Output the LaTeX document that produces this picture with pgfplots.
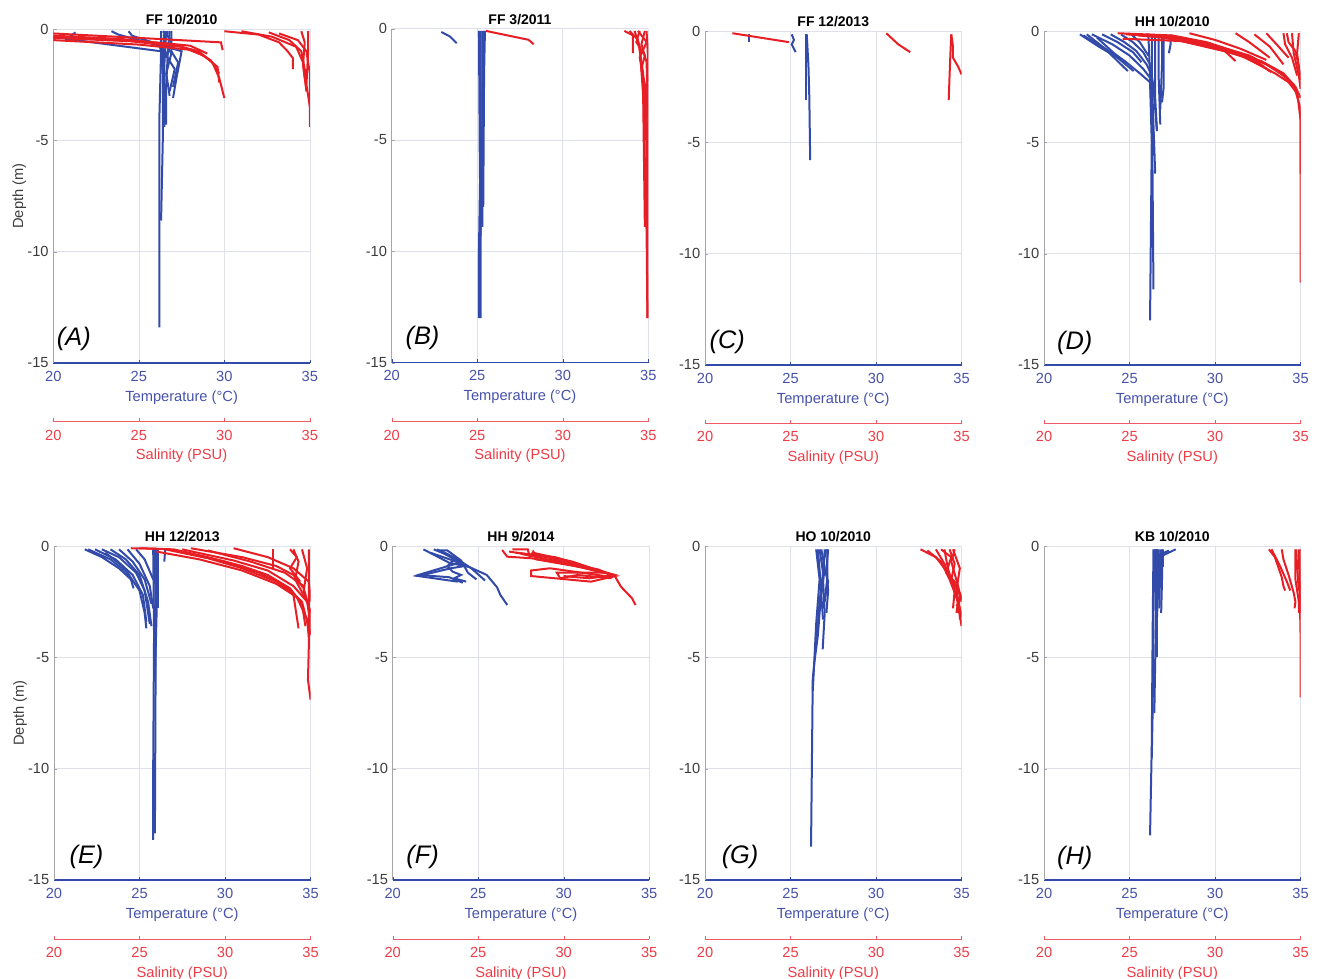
\documentclass[border=0pt]{standalone}
\usepackage{pgfplots}
\pgfplotsset{compat=1.18}
\usepackage{fontspec}
\setmainfont{Liberation Sans}
\definecolor{tblue}{RGB}{50,75,170}
\definecolor{sred}{RGB}{232,30,37}
\definecolor{tlab}{RGB}{70,82,170}
\definecolor{slab}{RGB}{238,60,70}
\definecolor{sline}{RGB}{240,90,100}
\definecolor{gridc}{RGB}{222,224,234}
\definecolor{ylab}{RGB}{60,60,60}
\newcommand{\fs}{\fontsize{11}{13}\selectfont}
\pgfplotsset{
 panel/.style={
  scale only axis, width=192.4pt, height=250.5pt, anchor=south west,
  xmin=20,xmax=35,ymin=-15,ymax=0,
  xtick={20,25,30,35}, ytick={-15,-10,-5,0},
  axis lines*=left,
  grid=major, major grid style={gridc, line width=0.5pt},
  x axis line style={draw=tblue, line width=1.1pt},
  y axis line style={draw=gray!70, line width=0.5pt},
  tick align=inside, major tick length=2.5pt,
  xtick style={tblue}, ytick style={gray!70},
  xticklabel style={text=tlab, font=\fs, yshift=-2.5pt},
  yticklabel style={text=ylab, font=\fs},
  xlabel={Temperature (°C)}, xlabel style={text=tlab, font=\fs, yshift=0pt},
  ylabel style={text=ylab, font=\fs, yshift=-6pt},
  title style={font=\bfseries\fontsize{10.5}{12}\selectfont, at={(0.5,1)}, anchor=south, inner sep=2pt, yshift=-5pt},
  /pgf/number format/assume math mode=true,
 },
 sal/.style={
  scale only axis, width=192.4pt, height=10pt, anchor=south west,
  xmin=20,xmax=35,ymin=0,ymax=1, hide y axis, axis x line*=bottom,
  xtick={20,25,30,35}, tick align=inside, major tick length=2.5pt,
  x axis line style={draw=sline, line width=0.9pt}, xtick style={sline},
  xticklabel style={text=slab, font=\fs, yshift=-2.5pt},
  xlabel={Salinity (PSU)}, xlabel style={text=slab, font=\fs, yshift=0pt},
  /pgf/number format/assume math mode=true,
 },
 T/.style={color=tblue, line width=1.5pt, mark=none},
 S/.style={color=sred, line width=1.5pt, mark=none},
}
\newcommand{\plab}[3]{\node[font=\itshape\fontsize{19}{21}\selectfont] at (axis cs:#1,#2) {#3};}
\begin{document}
\begin{tikzpicture}
\useasboundingbox (0,0) rectangle (989.25pt,-733.5pt);
% ---------------- A
\begin{axis}[panel, at={(40pt,-272.25pt)}, title={FF 10/2010}, ylabel={Depth (m)}]
\addplot[T] coordinates {(26.3,-0.1)(26.3,-1)(26.2,-4)(26.2,-8)(26.2,-13.4)};
\addplot[T] coordinates {(26.5,-0.1)(26.4,-1)(26.4,-5)(26.3,-8.6)};
\addplot[T] coordinates {(26.6,-0.1)(26.5,-1.5)(26.5,-4.4)};
\addplot[T] coordinates {(26.8,-0.1)(26.7,-1)(26.6,-2.5)(26.6,-4.3)};
\addplot[T] coordinates {(21.3,-0.15)(20.8,-0.45)(26.3,-1.0)(26.4,-2.0)};
\addplot[T] coordinates {(23.4,-0.1)(23.8,-0.25)(26.2,-0.75)(26.5,-1.4)};
\addplot[T] coordinates {(24.4,-0.1)(24.6,-0.3)(26.4,-0.75)(27.5,-1.0)(27.2,-2.2)(27.0,-3.1)};
\addplot[T] coordinates {(26.9,-0.1)(26.9,-1.0)(27.3,-1.5)(27.0,-2.6)};
\addplot[T] coordinates {(26.4,-0.1)(26.9,-0.5)(26.6,-1.2)(27.1,-1.8)(26.8,-2.8)};
\addplot[T] coordinates {(26.7,-0.1)(26.5,-0.6)(26.9,-1.1)(26.6,-2.0)(26.8,-3.0)};
\addplot[S] coordinates {(20,-0.2)(25,-0.4)(29.8,-0.6)(29.9,-0.95)};
\addplot[S] coordinates {(20,-0.3)(24,-0.45)(27,-0.7)(28.5,-1.0)(29.3,-1.5)(29.7,-2.2)(30,-3.1)};
\addplot[S] coordinates {(20,-0.4)(24.5,-0.55)(27.5,-0.8)(28.8,-1.2)(29.6,-1.7)(29.7,-2.4)};
\addplot[S] coordinates {(20,-0.5)(25,-0.7)(28.2,-0.95)(29.2,-1.4)(29.7,-2.0)};
\addplot[S] coordinates {(20,-0.35)(26,-0.6)(28,-0.75)(29,-1.1)};
\addplot[S] coordinates {(30,-0.1)(32,-0.25)(33.2,-0.6)(33.7,-1.0)(34,-1.3)(34,-1.8)};
\addplot[S] coordinates {(32.6,-0.15)(33.8,-0.5)(34.5,-1.0)(34.7,-1.8)(34.8,-2.8)};
\addplot[S] coordinates {(33.2,-0.2)(34.3,-0.5)(34.8,-1.0)(35,-2)(35,-4.4)};
\addplot[S] coordinates {(34.5,-0.1)(34.7,-0.6)(34.6,-1.6)(34.8,-2.8)};
\addplot[S] coordinates {(34.9,-0.1)(34.9,-1)(34.8,-2.5)(35,-3.5)};
\addplot[S] coordinates {(31,-0.1)(32.8,-0.35)(34.2,-0.8)(34.6,-1.5)(34.7,-2.2)};
\plab{21.2}{-13.9}{(A)}
\end{axis}
\begin{axis}[sal, at={(40pt,-316.3pt)}]
\addplot[draw=none] coordinates {(20,0)};
\end{axis}
% ---------------- B
\begin{axis}[panel, at={(293.8pt,-272.0pt)}, title={FF 3/2011}]
\addplot[T] coordinates {(22.9,-0.15)(23.4,-0.35)(23.8,-0.65)};
\addplot[T] coordinates {(25.2,-0.1)(25.2,-5)(25.1,-10)(25.1,-13.0)};
\addplot[T] coordinates {(25.3,-0.1)(25.3,-4)(25.2,-9)(25.2,-13)};
\addplot[T] coordinates {(25.4,-0.1)(25.3,-3)(25.3,-8.9)};
\addplot[T] coordinates {(25.45,-0.1)(25.4,-2)(25.35,-8)};
\addplot[T] coordinates {(25.1,-0.1)(25.15,-6)(25.2,-9.3)};
\addplot[S] coordinates {(25.5,-0.1)(28.0,-0.5)(28.3,-0.7)};
\addplot[S] coordinates {(33.6,-0.1)(34.1,-0.3)(34.1,-1.1)};
\addplot[S] coordinates {(33.9,-0.1)(34.4,-0.5)(34.7,-2)(34.8,-6)(34.9,-9)(34.95,-13)};
\addplot[S] coordinates {(34.2,-0.1)(34.5,-0.8)(34.7,-3)(34.8,-8.9)};
\addplot[S] coordinates {(34.5,-0.1)(34.3,-0.6)(34.8,-1.2)(34.6,-1.8)(34.9,-3.5)(34.9,-9)};
\addplot[S] coordinates {(34.8,-0.1)(34.6,-0.7)(34.9,-1.5)(35,-4)(34.95,-13)};
\addplot[S] coordinates {(34.4,-0.1)(34.9,-0.6)(34.5,-1.3)(34.8,-2.5)(34.85,-5)};
\addplot[S] coordinates {(34.9,-0.1)(35,-1.5)(34.9,-3)(34.9,-8)};
\plab{21.8}{-13.9}{(B)}
\end{axis}
\begin{axis}[sal, at={(293.8pt,-316.3pt)}]
\addplot[draw=none] coordinates {(20,0)};
\end{axis}
% ---------------- C
\begin{axis}[panel, at={(528.75pt,-273.75pt)}, title={FF 12/2013}]
\addplot[T] coordinates {(22.6,-0.15)(22.6,-0.5)};
\addplot[T] coordinates {(25.07,-0.15)(25.2,-0.4)(25.07,-0.6)(25.3,-0.95)};
\addplot[T] coordinates {(25.9,-0.15)(25.9,-1.5)(25.9,-3.1)};
\addplot[T] coordinates {(25.95,-0.15)(26.05,-1.6)(26.1,-3)(26.15,-5.8)};
\addplot[S] coordinates {(21.6,-0.1)(24.9,-0.5)};
\addplot[S] coordinates {(30.6,-0.1)(31.3,-0.6)(32.0,-0.95)};
\addplot[S] coordinates {(34.4,-0.15)(34.35,-1.0)(34.3,-2)(34.25,-3.1)};
\addplot[S] coordinates {(34.4,-0.15)(34.5,-0.7)(34.5,-1.2)(34.8,-1.6)(35,-1.95)};
\plab{21.3}{-13.95}{(C)}
\end{axis}
\begin{axis}[sal, at={(528.75pt,-317.5pt)}]
\addplot[draw=none] coordinates {(20,0)};
\end{axis}
% ---------------- D
\begin{axis}[panel, at={(783pt,-273.75pt)}, title={HH 10/2010}]
\addplot[T] coordinates {(22.1,-0.15)(23.2,-0.7)(24.3,-1.2)(25.24,-1.8)};
\addplot[T] coordinates {(22.3,-0.2)(23.6,-0.8)(24.8,-1.4)(25.6,-1.9)(26.2,-2.3)(26.3,-5)(26.2,-13)};
\addplot[T] coordinates {(22.8,-0.15)(24,-0.6)(25,-1.1)(25.8,-1.7)(26.3,-2.2)(26.4,-11.6)};
\addplot[T] coordinates {(23.4,-0.15)(24.3,-0.5)(25.2,-0.95)(25.7,-1.4)};
\addplot[T] coordinates {(23.9,-0.15)(24.7,-0.5)(25.4,-0.9)(26,-1.5)(26.3,-2.0)(26.5,-6.4)};
\addplot[T] coordinates {(24.5,-0.15)(25.2,-0.5)(25.8,-0.95)(26.2,-1.5)(26.4,-2.5)(26.6,-4.5)};
\addplot[T] coordinates {(25.1,-0.15)(25.6,-0.5)(26.1,-1.1)};
\addplot[T] coordinates {(22.5,-0.15)(23.5,-0.75)(24.5,-1.5)(24.9,-1.8)};
\addplot[T] coordinates {(23.1,-0.3)(24.1,-1.0)(24.8,-1.4)};
\addplot[T] coordinates {(26.3,-0.15)(26.3,-3)(26.4,-5.6)};
\addplot[T] coordinates {(26.5,-0.15)(26.5,-3)(26.6,-4.4)};
\addplot[T] coordinates {(26.7,-0.15)(26.7,-2)(26.8,-4.2)};
\addplot[T] coordinates {(26.9,-0.15)(26.9,-1.5)(26.8,-3.5)};
\addplot[T] coordinates {(27.0,-0.15)(27.0,-2.5)(26.9,-3.2)};
\addplot[T] coordinates {(27.4,-0.15)(27.4,-0.6)(27.3,-1.0)};
\addplot[T] coordinates {(26.1,-0.15)(26.2,-2)(26.3,-4)};
\addplot[S] coordinates {(24.3,-0.1)(27.5,-0.2)(29.5,-0.5)(31.5,-1.0)(33,-1.5)(34.2,-2.1)(34.8,-2.7)(35,-4)(35,-6.4)};
\addplot[S] coordinates {(24.8,-0.15)(28,-0.3)(30,-0.65)(32,-1.1)(33.5,-1.7)(34.6,-2.4)(35,-3.5)(35,-11.3)};
\addplot[S] coordinates {(25.5,-0.2)(28.5,-0.4)(30.5,-0.85)(31.2,-1.35)};
\addplot[S] coordinates {(26,-0.15)(29,-0.45)(31,-0.9)(32.5,-1.4)(33.2,-1.8)};
\addplot[S] coordinates {(26.5,-0.25)(29.5,-0.6)(31.5,-1.1)(32.8,-1.6)(33.3,-1.85)};
\addplot[S] coordinates {(27,-0.3)(30,-0.75)(31.8,-1.2)(33.5,-1.9)(34.3,-2.3)(34.8,-2.8)};
\addplot[S] coordinates {(24.6,-0.35)(28,-0.45)(30.5,-0.9)(32.7,-1.35)(34,-1.9)(34.7,-2.5)(35,-3)};
\addplot[S] coordinates {(31.2,-0.1)(32,-0.5)(33.2,-1.2)};
\addplot[S] coordinates {(32.3,-0.15)(33.2,-0.7)(34,-1.5)};
\addplot[S] coordinates {(33.0,-0.1)(33.6,-0.6)(34.3,-1.2)};
\addplot[S] coordinates {(34.0,-0.1)(34.1,-0.6)(34.5,-1.2)(34.8,-2)};
\addplot[S] coordinates {(34.5,-0.1)(34.6,-1)(34.9,-2)(35,-2.6)};
\addplot[S] coordinates {(34.9,-0.1)(34.8,-1)(35,-2.2)};
\addplot[S] coordinates {(28.5,-0.1)(30,-0.4)(31.5,-0.8)(33,-1.3)};
\addplot[S] coordinates {(34.2,-0.1)(34.3,-0.5)(34.7,-0.9)(34.9,-1.6)};
\plab{21.8}{-14.0}{(D)}
\end{axis}
\begin{axis}[sal, at={(783pt,-317.5pt)}]
\addplot[draw=none] coordinates {(20,0)};
\end{axis}
% ---------------- E
\begin{axis}[panel, at={(40.5pt,-660pt)}, title={HH 12/2013}, ylabel={Depth (m)}]
\addplot[T] coordinates {(21.8,-0.15)(22.8,-0.5)(23.8,-1.0)(24.5,-1.5)(24.65,-1.9)};
\addplot[T] coordinates {(22,-0.15)(23.3,-0.6)(24.3,-1.2)(25,-2)(25.3,-3)(25.4,-3.7)};
\addplot[T] coordinates {(22.4,-0.15)(23.6,-0.6)(24.6,-1.3)(25.2,-2.2)(25.4,-3.4)};
\addplot[T] coordinates {(22.8,-0.15)(23.8,-0.5)(24.8,-1.2)(25.3,-2.0)(25.6,-3.5)};
\addplot[T] coordinates {(23.3,-0.15)(24.2,-0.6)(25.0,-1.3)(25.5,-2.5)(25.7,-3.6)};
\addplot[T] coordinates {(23.8,-0.15)(24.6,-0.7)(25.3,-1.5)(25.7,-2.6)};
\addplot[T] coordinates {(24.3,-0.15)(25,-0.8)(25.6,-1.8)(25.8,-2.8)};
\addplot[T] coordinates {(24.8,-0.15)(25.3,-0.6)(25.8,-1.5)};
\addplot[T] coordinates {(25.8,-0.15)(25.85,-4)(25.8,-10)(25.8,-13.2)};
\addplot[T] coordinates {(25.9,-0.15)(25.95,-4)(25.9,-12.9)};
\addplot[T] coordinates {(26.1,-0.15)(26.1,-2.8)};
\addplot[T] coordinates {(26.0,-0.15)(26.0,-3)(25.9,-6)};
\addplot[T] coordinates {(26.5,-0.15)(26.45,-0.7)};
\addplot[T] coordinates {(23.0,-0.3)(24.0,-0.9)(24.6,-1.6)};
\addplot[S] coordinates {(25,-0.1)(27,-0.15)(29,-0.5)(31,-0.9)(32.5,-1.3)(33.8,-1.9)(34.5,-2.6)(34.7,-3.6)};
\addplot[S] coordinates {(26.5,-0.15)(29,-0.55)(31,-1.0)(33,-1.6)(34.2,-2.3)(34.8,-3.3)(34.9,-4.1)};
\addplot[S] coordinates {(27,-0.2)(30,-0.7)(32,-1.2)(33.5,-1.8)(34.5,-2.5)(35,-4.0)};
\addplot[S] coordinates {(27.5,-0.15)(30.5,-0.65)(32.5,-1.1)(34,-1.8)(34.8,-2.5)(34.9,-3.0)};
\addplot[S] coordinates {(26,-0.25)(28.5,-0.6)(31,-1.1)(33,-1.7)(34,-2.2)(34.3,-3.7)};
\addplot[S] coordinates {(28,-0.1)(31,-0.5)(33,-0.9)(34,-1.3)(34.6,-1.9)(35,-3)};
\addplot[S] coordinates {(29,-0.2)(31.5,-0.7)(33.5,-1.2)(34.6,-1.8)};
\addplot[S] coordinates {(32.8,-0.15)(32.8,-1.0)};
\addplot[S] coordinates {(34.0,-0.15)(34.3,-0.7)(34.1,-1.5)(34.8,-2.5)};
\addplot[S] coordinates {(34.5,-0.15)(34.8,-1)(34.6,-2)(35,-3)(35,-4)};
\addplot[S] coordinates {(34.9,-0.15)(34.9,-2)(34.9,-4.5)(34.85,-6)(35,-6.9)};
\addplot[S] coordinates {(33.8,-0.15)(34.2,-0.5)(33.8,-1.0)(34.4,-1.6)};
\addplot[S] coordinates {(24.5,-0.1)(26,-0.12)};
\addplot[S] coordinates {(30.5,-0.1)(32.5,-0.5)(34,-1.0)(34.9,-1.6)(35,-2.5)};
\plab{21.9}{-13.95}{(E)}
\end{axis}
\begin{axis}[sal, at={(40.5pt,-704.5pt)}]
\addplot[draw=none] coordinates {(20,0)};
\end{axis}
% ---------------- F
\begin{axis}[panel, at={(294.5pt,-660pt)}, title={HH 9/2014}]
\addplot[T] coordinates {(21.8,-0.15)(23.3,-0.75)(24.5,-0.95)(25.5,-1.3)(26.1,-1.85)(26.3,-2.2)(26.7,-2.65)};
\addplot[T] coordinates {(22.4,-0.15)(23.5,-0.5)(24.2,-0.9)(23.4,-1.0)(21.5,-1.35)(23.8,-1.6)};
\addplot[T] coordinates {(22.8,-0.2)(23.8,-0.6)(24.6,-1.0)(25.4,-1.55)};
\addplot[T] coordinates {(22.6,-0.15)(23.6,-0.6)(23.2,-0.9)(23.5,-1.15)(24.0,-1.3)(23.6,-1.45)(24.3,-1.6)};
\addplot[T] coordinates {(22.2,-0.3)(23.9,-0.75)(21.5,-1.3)(23.3,-1.4)(24.1,-1.65)};
\addplot[T] coordinates {(22.6,-0.2)(23.2,-0.2)(24.0,-0.65)(24.4,-1.2)(24.9,-1.5)};
\addplot[S] coordinates {(26.4,-0.18)(26.7,-0.48)(28.1,-0.55)(30.0,-0.78)(32.95,-1.3)(33.35,-1.83)(34.0,-2.35)(34.2,-2.65)};
\addplot[S] coordinates {(27.0,-0.15)(27.9,-0.15)(28.0,-0.45)(28.2,-0.3)(30.5,-0.7)(33,-1.35)(31.6,-1.6)(28.1,-1.35)(28.1,-1.1)(29.2,-1.0)(32.9,-1.4)};
\addplot[S] coordinates {(27.2,-0.3)(29.5,-0.5)(32.5,-1.2)(29.6,-1.2)(29.8,-1.45)(30.8,-1.3)(32.8,-1.45)};
\addplot[S] coordinates {(27.5,-0.35)(30,-0.75)(32,-1.05)(33,-1.35)};
\addplot[S] coordinates {(28.2,-0.2)(28.4,-0.6)(31,-0.95)(32.9,-1.3)};
\addplot[S] coordinates {(26.8,-0.25)(29,-0.5)(31.5,-1.0)(33,-1.3)(31.5,-1.45)(30,-1.35)};
\plab{21.75}{-13.95}{(F)}
\end{axis}
\begin{axis}[sal, at={(294.5pt,-704.5pt)}]
\addplot[draw=none] coordinates {(20,0)};
\end{axis}
% ---------------- G
\begin{axis}[panel, at={(528.75pt,-660pt)}, title={HO 10/2010}]
\addplot[T] coordinates {(26.6,-0.15)(26.8,-2)(26.6,-4)(26.4,-5.2)(26.3,-6)(26.2,-13.5)};
\addplot[T] coordinates {(26.5,-0.15)(26.7,-1.5)(26.5,-3.5)(26.4,-5)(26.3,-6.5)};
\addplot[T] coordinates {(27.0,-0.15)(26.9,-1.5)(27.0,-3)(26.88,-4.64)};
\addplot[T] coordinates {(27.2,-0.15)(27.1,-1)(27.2,-2)(27.1,-3.0)};
\addplot[T] coordinates {(26.8,-0.15)(27.0,-1)(26.8,-2.2)(26.9,-3.3)};
\addplot[T] coordinates {(27.1,-0.15)(26.9,-0.8)(27.2,-1.6)(26.9,-2.8)};
\addplot[T] coordinates {(26.7,-0.15)(26.9,-1.2)(26.7,-2.5)(26.6,-3.5)(26.5,-4.2)};
\addplot[T] coordinates {(27.15,-0.15)(27.15,-1.4)(27.0,-2.5)};
\addplot[S] coordinates {(32.6,-0.15)(33.5,-0.5)(34.2,-1.2)(34.7,-2.2)(35,-3.6)};
\addplot[S] coordinates {(33.0,-0.2)(33.8,-0.7)(34.3,-1.5)(34.8,-2.5)(34.7,-3.0)};
\addplot[S] coordinates {(33.5,-0.15)(34.0,-0.8)(34.5,-1.8)(34.9,-2.8)(34.9,-3.3)};
\addplot[S] coordinates {(34.0,-0.15)(34.2,-1)(34.6,-2.0)(34.5,-2.8)};
\addplot[S] coordinates {(34.3,-0.15)(34.6,-0.8)(34.4,-1.5)(34.9,-2.2)(34.8,-3.0)};
\addplot[S] coordinates {(34.6,-0.15)(34.4,-0.7)(34.8,-1.8)(35,-2.5)};
\addplot[S] coordinates {(33.8,-0.15)(34.4,-0.5)(34.1,-1.2)(34.6,-1.6)(35,-2.3)(34.7,-2.7)};
\addplot[S] coordinates {(34.5,-0.15)(34.9,-1.0)(34.7,-2.0)(35,-3.2)};
\plab{22.05}{-13.95}{(G)}
\end{axis}
\begin{axis}[sal, at={(528.75pt,-704.5pt)}]
\addplot[draw=none] coordinates {(20,0)};
\end{axis}
% ---------------- H
\begin{axis}[panel, at={(783pt,-660pt)}, title={KB 10/2010}]
\addplot[T] coordinates {(26.45,-0.15)(26.4,-3)(26.35,-7.5)(26.3,-9.5)};
\addplot[T] coordinates {(26.4,-0.15)(26.35,-4)(26.3,-9)(26.2,-13.0)};
\addplot[T] coordinates {(26.6,-0.15)(26.6,-3.5)(26.6,-5.0)};
\addplot[T] coordinates {(26.5,-0.15)(26.55,-3)(26.45,-7.5)};
\addplot[T] coordinates {(26.7,-0.15)(26.7,-1.5)(26.6,-3.3)};
\addplot[T] coordinates {(26.9,-0.15)(26.9,-1.5)(26.85,-3.0)};
\addplot[T] coordinates {(26.8,-0.15)(26.75,-2.8)};
\addplot[T] coordinates {(26.55,-0.15)(26.5,-0.6)(26.65,-2)};
\addplot[T] coordinates {(27.7,-0.15)(27.0,-0.4)(26.8,-0.6)};
\addplot[T] coordinates {(27.3,-0.2)(26.9,-0.35)};
\addplot[T] coordinates {(26.95,-0.15)(26.95,-0.9)(26.8,-1.0)};
\addplot[S] coordinates {(33.15,-0.15)(33.5,-0.5)(33.9,-1.4)(34.0,-1.8)(34.1,-2.0)};
\addplot[S] coordinates {(33.9,-0.15)(34.0,-0.6)(34.3,-1.3)(34.6,-2.1)(34.7,-2.5)(34.65,-2.8)};
\addplot[S] coordinates {(34.7,-0.15)(34.7,-1.5)(34.9,-2.5)(34.9,-3.0)};
\addplot[S] coordinates {(34.9,-0.15)(34.95,-2)(35,-4)(35,-6.8)};
\addplot[S] coordinates {(34.75,-0.15)(34.8,-1.0)(34.9,-2)};
\addplot[S] coordinates {(35,-0.15)(35,-3)};
\addplot[S] coordinates {(33.3,-0.15)(33.8,-0.9)(34.2,-1.6)(34.4,-2.0)};
\plab{21.8}{-14.0}{(H)}
\end{axis}
\begin{axis}[sal, at={(783pt,-704.5pt)}]
\addplot[draw=none] coordinates {(20,0)};
\end{axis}
\end{tikzpicture}
\end{document}
